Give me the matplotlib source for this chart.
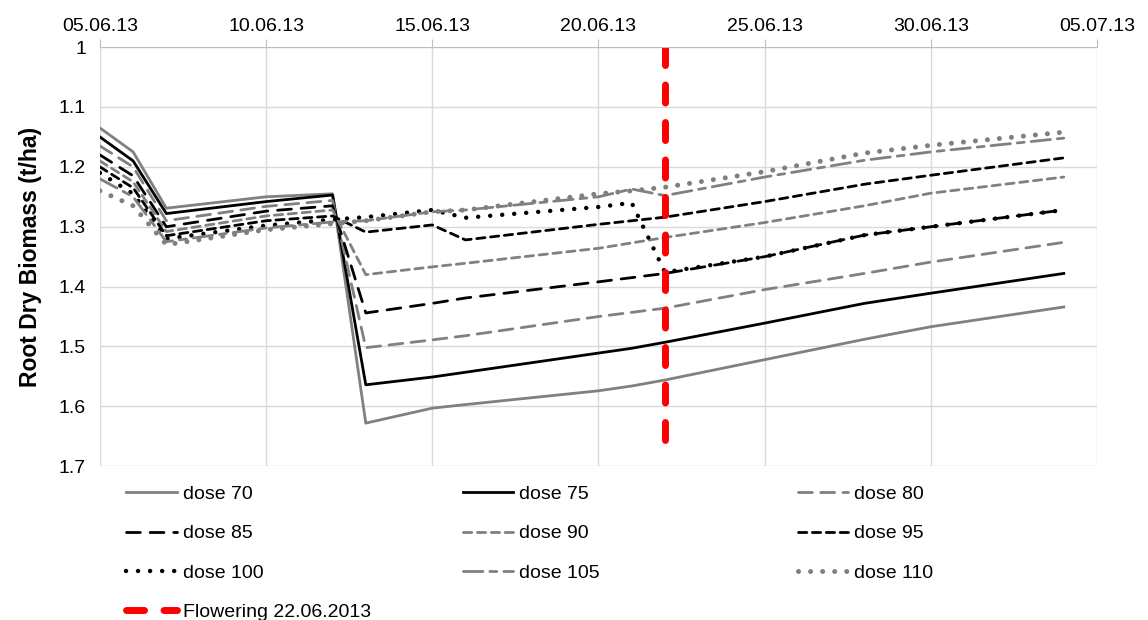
import datetime as dt
import matplotlib
matplotlib.use("Agg")
import matplotlib.pyplot as plt
import matplotlib.dates as mdates

plt.rcParams['font.family'] = ['Liberation Sans', 'DejaVu Sans']

# dates of the model output (day.month of 2013)
days = ["05.06", "06.06", "07.06", "10.06", "12.06", "13.06", "15.06", "16.06",
        "20.06", "21.06", "22.06", "25.06", "28.06", "30.06", "04.07"]

dose_70 = [1.135, 1.175, 1.269, 1.250, 1.245, 1.628, 1.603, 1.597, 1.574, 1.566, 1.556, 1.522, 1.488, 1.467, 1.434]
dose_75 = [1.150, 1.190, 1.278, 1.258, 1.247, 1.564, 1.551, 1.543, 1.511, 1.503, 1.493, 1.461, 1.428, 1.411, 1.378]
dose_80 = [1.165, 1.200, 1.290, 1.266, 1.256, 1.502, 1.489, 1.482, 1.450, 1.443, 1.436, 1.405, 1.378, 1.359, 1.326]
dose_85 = [1.180, 1.215, 1.300, 1.274, 1.265, 1.444, 1.428, 1.419, 1.392, 1.385, 1.378, 1.350, 1.314, 1.300, 1.272]
dose_90 = [1.190, 1.225, 1.308, 1.282, 1.272, 1.380, 1.367, 1.361, 1.336, 1.327, 1.318, 1.293, 1.265, 1.244, 1.217]
dose_95 = [1.200, 1.235, 1.315, 1.290, 1.282, 1.309, 1.297, 1.322, 1.296, 1.290, 1.284, 1.258, 1.229, 1.214, 1.185]
dose_100 = [1.210, 1.245, 1.320, 1.298, 1.288, 1.284, 1.272, 1.285, 1.267, 1.260, 1.376, 1.350, 1.314, 1.300, 1.272]
dose_105 = [1.220, 1.250, 1.325, 1.302, 1.292, 1.290, 1.275, 1.272, 1.250, 1.237, 1.248, 1.217, 1.189, 1.175, 1.152]
dose_110 = [1.240, 1.265, 1.330, 1.305, 1.295, 1.290, 1.275, 1.272, 1.245, 1.240, 1.234, 1.208, 1.177, 1.164, 1.142]

flowering_day = "22.06"
flowering_y = [1.0, 1.657]

x_ticks = ["05.06", "10.06", "15.06", "20.06", "25.06", "30.06", "05.07"]
y_ticks = [1.0, 1.1, 1.2, 1.3, 1.4, 1.5, 1.6, 1.7]
y_labels = ["1", "1.1", "1.2", "1.3", "1.4", "1.5", "1.6", "1.7"]


def to_date(s):
    d, m = s.split(".")
    return dt.datetime(2013, int(m), int(d))


x = [to_date(s) for s in days]

gray = "#808080"
styles = {
    "dose 70": (dose_70, gray, 2.0, "-"),
    "dose 75": (dose_75, "black", 2.0, "-"),
    "dose 80": (dose_80, gray, 2.0, (0, (5, 3))),
    "dose 85": (dose_85, "black", 2.0, (0, (5, 3.5))),
    "dose 90": (dose_90, gray, 2.0, (0, (3, 2))),
    "dose 95": (dose_95, "black", 2.0, (0, (3, 2))),
    "dose 100": (dose_100, "black", 3.2, (0, (0.01, 2.7))),
    "dose 105": (dose_105, gray, 2.0, (0, (7, 2.5, 2.5, 2.5))),
    "dose 110": (dose_110, gray, 3.6, (0, (0.01, 2.4))),
}

fig = plt.figure(figsize=(11.48, 6.2), dpi=100)
ax = fig.add_axes([0.087, 0.248, 0.8686, 0.676])

lines = {}
for name, (vals, col, lw, ls) in styles.items():
    l, = ax.plot(x, vals, color=col, lw=lw, linestyle=ls,
                 dash_capstyle="round", label=name)
    lines[name] = l

fd = to_date(flowering_day)
flow, = ax.plot([fd, fd], flowering_y, color="#ff0000", lw=5,
                linestyle=(0, (2.6, 2.8)), dash_capstyle="round",
                label="Flowering 22.06.2013")
lines["flow"] = flow

ax.set_xlim(to_date("05.06"), to_date("05.07"))
ax.set_ylim(1.7, 1.0)
ax.xaxis.tick_top()
ax.set_xticks([to_date(s) for s in x_ticks])
ax.xaxis.set_major_formatter(mdates.DateFormatter("%d.%m.%y"))
ax.set_yticks(y_ticks)
ax.set_yticklabels(y_labels)
ax.tick_params(axis="x", labelsize=14, length=6, color="#bfbfbf", pad=3)
ax.tick_params(axis="y", labelsize=14, length=0, pad=10)
ax.grid(True, color="#d9d9d9", lw=1)
ax.set_axisbelow(True)
for s in ["right", "bottom", "left"]:
    ax.spines[s].set_visible(False)
ax.spines["top"].set_color("#bfbfbf")
ax.set_ylabel("Root Dry Biomass (t/ha)", fontsize=16.5, fontweight="bold", labelpad=12)

# one legend per column, like the spreadsheet layout
columns = [["dose 70", "dose 85", "dose 100", "flow"],
           ["dose 75", "dose 90", "dose 105"],
           ["dose 80", "dose 95", "dose 110"]]
col_x = [0.110, 0.403, 0.695]
for names, cx in zip(columns, col_x):
    hs = [lines[n] for n in names]
    fig.legend(hs, [h.get_label() for h in hs], loc="upper left",
               bbox_to_anchor=(cx, 0.217), frameon=False, fontsize=14,
               handlelength=2.6, handletextpad=0.3, labelspacing=1.12,
               borderpad=0, borderaxespad=0)

fig.savefig("out.png", dpi=100)
